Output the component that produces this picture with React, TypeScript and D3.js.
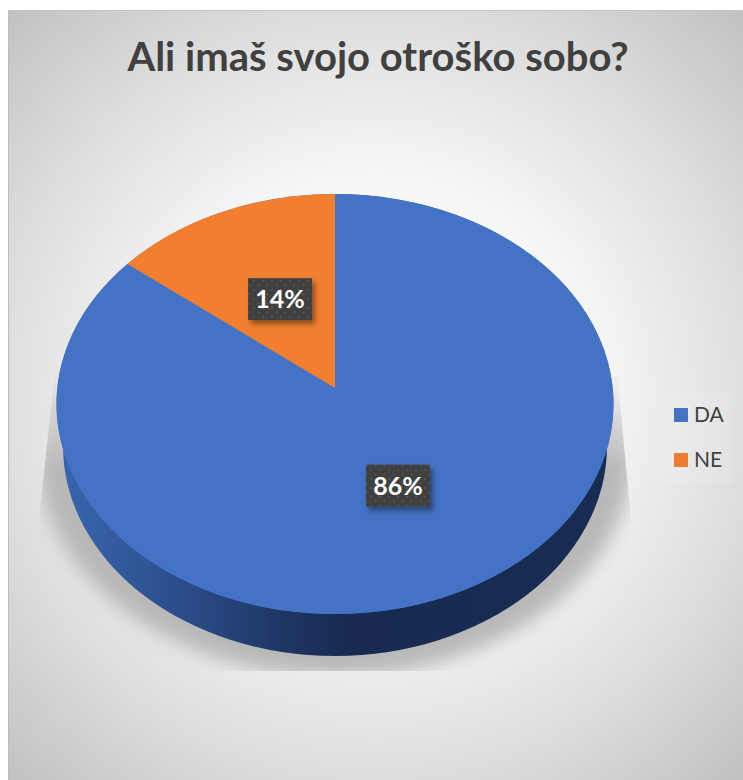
import React from "react";
import * as d3 from "d3";

const title = "Ali imaš svojo otroško sobo?";
const categories = ["DA", "NE"];
const values = [86, 14];
const colors = ["#4472c4", "#ed7d31"];
const sliceFill = ["#4472c4", "#f27f30"];

const W = 743, H = 780;
const cx = 335, cy = 404, rx = 278.5, ry = 210;
const apexY = 388, depth = 42, bottomRx = 272;
const dirY = 201;

const pie = d3.pie<number>().sort(null).value((d) => d);
const arcs = pie(values);

// Where a ray from the apex, at a pie angle, meets the tilted top face.
function rim(a: number): [number, number] {
  const dx = Math.sin(a) * rx;
  const dy = -Math.cos(a) * dirY;
  const off = apexY - cy;
  const A = (dx / rx) ** 2 + (dy / ry) ** 2;
  const B = 2 * (dy * off) / (ry * ry);
  const C = (off / ry) ** 2 - 1;
  const t = (-B + Math.sqrt(B * B - 4 * A * C)) / (2 * A);
  return [cx + dx * t, apexY + dy * t];
}

function slicePath(a0: number, a1: number) {
  const [x0, y0] = rim(a0);
  const [x1, y1] = rim(a1);
  const large = a1 - a0 > Math.PI ? 1 : 0;
  return `M${cx},${apexY}L${x0},${y0}A${rx},${ry} 0 ${large} 1 ${x1},${y1}Z`;
}

const pct = d3.format(".0%");
const total = d3.sum(values);

export default function App() {
  return (
    <svg width={W} height={H} style={{ position: "absolute", left: 0, top: 0 }}>
      <defs>
        <radialGradient id="bg" gradientUnits="userSpaceOnUse" cx={375} cy={395} r={540}>
          <stop offset="0" stopColor="#ffffff" />
          <stop offset="0.4" stopColor="#f7f7f7" />
          <stop offset="0.72" stopColor="#dcdcdc" />
          <stop offset="1" stopColor="#c0c0c0" />
        </radialGradient>
        <linearGradient id="side" gradientUnits="userSpaceOnUse" x1={60} x2={612} y1={0} y2={0}>
          <stop offset="0" stopColor="#3a66ae" />
          <stop offset="0.2" stopColor="#2d4f8e" />
          <stop offset="0.42" stopColor="#1e3462" />
          <stop offset="0.52" stopColor="#182a50" />
          <stop offset="1" stopColor="#182c52" />
        </linearGradient>
        <linearGradient id="fade" gradientUnits="userSpaceOnUse" x1={0} x2={0} y1={370} y2={470}>
          <stop offset="0" stopColor="#000" />
          <stop offset="1" stopColor="#fff" />
        </linearGradient>
        <mask id="shadowFade" maskUnits="userSpaceOnUse" x={0} y={0} width={W} height={H}>
          <rect x={0} y={0} width={W} height={H} fill="url(#fade)" />
        </mask>
        <filter id="blur" x="-20%" y="-20%" width="140%" height="140%">
          <feGaussianBlur stdDeviation="9" />
        </filter>
        <filter id="lblShadow" x="-30%" y="-30%" width="170%" height="170%">
          <feDropShadow dx="3" dy="4" stdDeviation="2.5" floodColor="#000" floodOpacity="0.4" />
        </filter>
        <clipPath id="shadowClip">
          <polygon points="58,340 38,530 38,671 632,671 632,530 616,360" />
        </clipPath>
        <pattern id="dots" width="9" height="9" patternUnits="userSpaceOnUse">
          <rect width="9" height="9" fill="#404040" />
          <circle cx="2" cy="2" r="1.1" fill="#555" />
          <circle cx="6.5" cy="6.5" r="1.1" fill="#555" />
        </pattern>
      </defs>

      <rect x={8} y={10} width={W - 8} height={H - 10} fill="url(#bg)" />
      <line x1={8.5} y1={10} x2={8.5} y2={H} stroke="#bcbcbc" />
      <line x1={8} y1={10.5} x2={W} y2={10.5} stroke="#c4c4c4" />

      <text x={378} y={71} textAnchor="middle" fontFamily="Lato, Carlito, sans-serif"
        fontWeight={700} fontSize={40} fill="#404040">{title}</text>

      <g clipPath="url(#shadowClip)">
        <g mask="url(#shadowFade)">
          <ellipse cx={cx} cy={452} rx={298} ry={224} fill="#b8b8b8" filter="url(#blur)" />
        </g>
      </g>

      <ellipse cx={cx} cy={cy + depth} rx={bottomRx} ry={ry} fill="url(#side)" />
      <ellipse cx={cx} cy={cy} rx={rx} ry={ry} fill={sliceFill[0]} />

      {arcs.map((d, i) => (
        <path key={categories[i]} d={slicePath(d.startAngle, d.endAngle)} fill={sliceFill[i]} />
      ))}

      {arcs.map((d, i) => {
        const [rimX, rimY] = rim((d.startAngle + d.endAngle) / 2);
        const lx = cx + (rimX - cx) * 0.48;
        const ly = apexY + (rimY - apexY) * 0.495 - 2;
        return (
          <g key={categories[i]}>
            <rect x={lx - 32} y={ly - 21} width={64} height={42} fill="url(#dots)" filter="url(#lblShadow)" />
            <text x={lx} y={ly + 9} textAnchor="middle" fontFamily="Lato, Carlito, sans-serif"
              fontWeight={700} fontSize={25} fill="#ffffff">{pct(values[i] / total)}</text>
          </g>
        );
      })}

      <rect x={660} y={392} width={73} height={91} fill="#ffffff" fillOpacity={0.1} />
      {categories.map((c, i) => (
        <g key={c}>
          <rect x={674} y={408 + i * 45} width={14} height={14} fill={colors[i]} />
          <text x={694} y={422 + i * 45} fontFamily="Lato, Carlito, sans-serif" fontSize={21} fill="#404040">{c}</text>
        </g>
      ))}
    </svg>
  );
}
